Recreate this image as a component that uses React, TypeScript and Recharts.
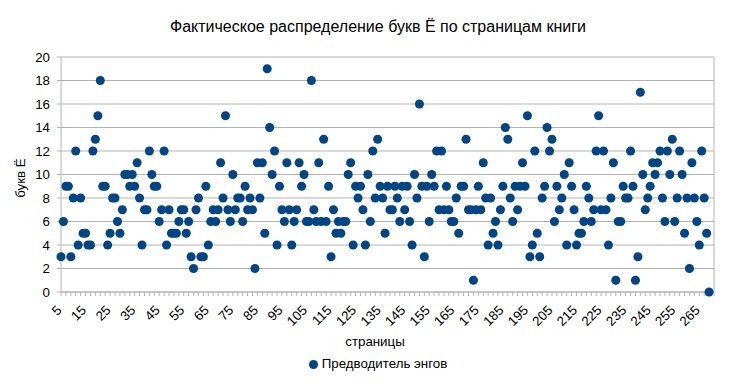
import React from 'react';
import { ScatterChart, Scatter, XAxis, YAxis, ZAxis, CartesianGrid, Legend, ReferenceLine } from 'recharts';

// first page shown on the chart
const firstPage = 5;
const lastAxisPage = 271;

// number of letters "Ё" on each page, starting at page 5
const letterCounts: number[] = [
  3, 6, 9, 9, 3, 8, 12, 4, 8, 5,
  5, 4, 4, 12, 13, 15, 18, 9, 9, 4,
  5, 8, 8, 6, 5, 7, 10, 10, 9, 10,
  9, 11, 8, 4, 7, 7, 12, 10, 9, 9,
  6, 7, 12, 4, 7, 5, 5, 5, 6, 7,
  7, 5, 6, 3, 2, 7, 8, 3, 3, 9,
  4, 6, 7, 6, 7, 11, 8, 15, 7, 6,
  10, 7, 8, 8, 6, 9, 7, 8, 7, 2,
  11, 8, 11, 5, 19, 14, 10, 12, 4, 9,
  7, 6, 11, 7, 4, 6, 7, 11, 9, 10,
  6, 6, 18, 7, 6, 11, 6, 13, 6, 9,
  3, 7, 5, 6, 5, 6, 6, 10, 11, 4,
  9, 8, 9, 7, 4, 10, 6, 12, 8, 13,
  9, 8, 5, 9, 7, 7, 9, 8, 6, 9,
  7, 9, 6, 4, 10, 8, 16, 9, 3, 9,
  6, 10, 9, 12, 7, 12, 7, 9, 7, 6,
  6, 8, 5, 9, 9, 13, 7, 7, 1, 7,
  9, 7, 11, 8, 4, 8, 5, 6, 4, 7,
  9, 14, 13, 8, 6, 9, 7, 9, 11, 9,
  15, 3, 4, 12, 5, 3, 8, 9, 14, 12,
  13, 6, 9, 7, 8, 10, 4, 11, 9, 7,
  4, 5, 5, 6, 9, 8, 6, 7, 12, 15,
  7, 12, 7, 4, 8, 11, 1, 6, 6, 9,
  8, 8, 12, 9, 1, 3, 17, 10, 7, 8,
  9, 11, 10, 11, 12, 8, 6, 12, 10, 13,
  6, 8, 12, 10, 5, 8, 2, 11, 8, 6,
  4, 12, 8, 5, 0,
];

// labelled x ticks
const xLabelTicks: number[] = [5, 15, 25, 35, 45, 55, 65, 75, 85, 95, 105, 115, 125, 135, 145, 155, 165, 175, 185, 195, 205, 215, 225, 235, 245, 255, 265];
// minor x tick marks every 2 pages
const xMinorTicks: number[] = [];
for (let v = firstPage; v <= lastAxisPage; v += 2) xMinorTicks.push(v);

const yTicks: number[] = [0, 2, 4, 6, 8, 10, 12, 14, 16, 18, 20];

const titleText = 'Фактическое распределение букв Ё по страницам книги';
const xTitle = 'страницы';
const yTitle = 'букв Ё';
const seriesName = 'Предводитель энгов';

const data = letterCounts.map((count, i) => ({ page: firstPage + i, count }));

const FONT = '"Liberation Sans", Arial, sans-serif';
const GRID = '#b3b3b3';
const DOT = '#004586';

const XTick = (props: any) => {
  const { x, y, payload } = props;
  if (!xLabelTicks.includes(payload.value)) return <g />;
  return (
    <g transform={`translate(${x + 1.5},${y + 13})`}>
      <text textAnchor="end" transform="rotate(-45)" fontSize={13.3} fill="#000" fontFamily={FONT}>
        {payload.value}
      </text>
    </g>
  );
};

export default function App() {
  return (
    <div style={{ position: 'absolute', left: 0, top: 0, width: 730, height: 386, background: '#fff', fontFamily: FONT }}>
      <ScatterChart width={730} height={386} margin={{ top: 57, right: 16, bottom: 6, left: 0 }}>
        <CartesianGrid horizontal={true} vertical={false} stroke={GRID} />
        <XAxis
          type="number"
          dataKey="page"
          domain={[firstPage, lastAxisPage]}
          ticks={xMinorTicks}
          interval={0}
          tickSize={4}
          height={64}
          axisLine={{ stroke: GRID }}
          tickLine={{ stroke: GRID }}
          tick={<XTick />}
        />
        <YAxis
          type="number"
          dataKey="count"
          domain={[0, 20]}
          ticks={yTicks}
          interval={0}
          width={61}
          tickSize={4}
          tickMargin={7}
          axisLine={{ stroke: GRID }}
          tickLine={{ stroke: GRID }}
          tick={{ fill: '#000', fontSize: 13.3, fontFamily: FONT }}
        />
        <ZAxis range={[50, 50]} />
        <ReferenceLine x={lastAxisPage} stroke={GRID} />
        <Legend
          verticalAlign="bottom"
          height={24}
          iconSize={9}
          wrapperStyle={{ left: 26, fontSize: 13.3, fontFamily: FONT }}
          formatter={(value: any) => <span style={{ color: '#000' }}>{value}</span>}
        />
        <Scatter name={seriesName} data={data} fill={DOT} isAnimationActive={false} />
      </ScatterChart>
      <svg width={730} height={386} style={{ position: 'absolute', left: 0, top: 0, pointerEvents: 'none' }}>
        <text x={378} y={32} textAnchor="middle" fontSize={16} fill="#000" fontFamily={FONT}>{titleText}</text>
        <text x={375} y={345.5} textAnchor="middle" fontSize={13.3} fill="#000" fontFamily={FONT}>{xTitle}</text>
        <text transform="translate(25,178) rotate(-90)" textAnchor="middle" fontSize={13.3} fill="#000" fontFamily={FONT}>{yTitle}</text>
      </svg>
    </div>
  );
}
